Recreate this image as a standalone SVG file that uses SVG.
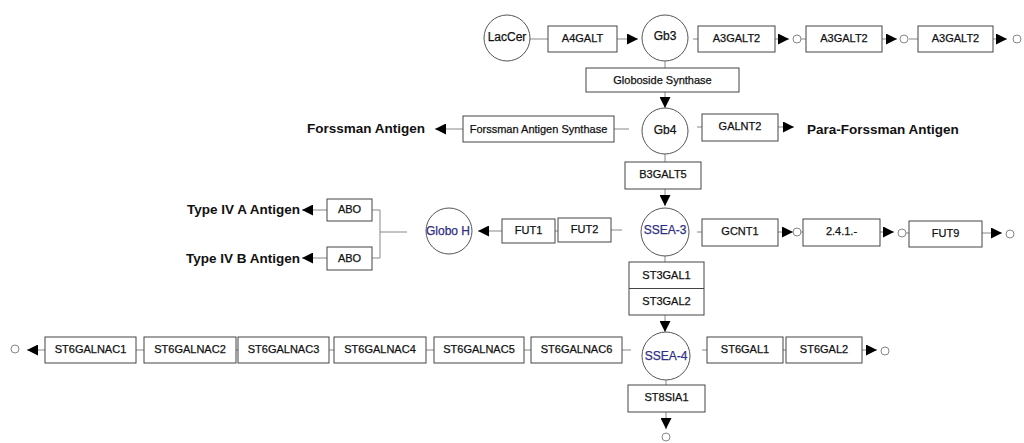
<svg xmlns="http://www.w3.org/2000/svg" width="1024" height="443" viewBox="0 0 1024 443">
  <style>
    .box { fill: #fff; stroke: #444; stroke-width: 1; }
    .met { fill: #fff; stroke: #555; stroke-width: 1; }
    .end { fill: #fff; stroke: #888; stroke-width: 1; }
    .lbl { font-family: "Liberation Sans", Arial, sans-serif; font-size: 11px; fill: #111; stroke: #111; stroke-width: 0.25; text-anchor: middle; dominant-baseline: central; }
    .mlbl { font-size: 12px; }
    .blue { fill: #2e2e82; stroke: #2e2e82; }
    .prod { font-family: "Liberation Sans", Arial, sans-serif; font-size: 13.5px; font-weight: bold; fill: #111; dominant-baseline: central; }
    .ln { stroke: #888; stroke-width: 1; fill: none; }
    .ar { stroke: #888; stroke-width: 1; fill: none; marker-end: url(#tri); }
  </style>
  <defs>
    <marker id="tri" viewBox="0 0 10 10" refX="10" refY="5" markerWidth="11" markerHeight="11" markerUnits="userSpaceOnUse" orient="auto">
      <path d="M0,0 L10,5 L0,10 z" fill="#000"/>
    </marker>
  </defs>
  <rect width="1024" height="443" fill="#fff"/>

  <!-- connectors -->
  <g id="connectors">
    <!-- top row -->
    <line class="ln" x1="530" y1="39" x2="548" y2="39"/>
    <line class="ar" x1="617" y1="39" x2="638" y2="39"/>
    <line class="ln" x1="693" y1="39" x2="698" y2="39"/>
    <line class="ar" x1="775" y1="39" x2="789" y2="39"/>
    <line class="ln" x1="801" y1="39" x2="806" y2="39"/>
    <line class="ar" x1="882" y1="39" x2="897" y2="39"/>
    <line class="ln" x1="909" y1="39" x2="918" y2="39"/>
    <line class="ar" x1="993" y1="39" x2="1007" y2="39"/>
    <!-- main trunk -->
    <line class="ln" x1="665" y1="61" x2="665" y2="68"/>
    <line class="ar" x1="665" y1="92" x2="665" y2="108"/>
    <line class="ln" x1="665" y1="154" x2="665" y2="162"/>
    <line class="ar" x1="665" y1="189" x2="665" y2="206"/>
    <line class="ln" x1="665" y1="256" x2="665" y2="262"/>
    <line class="ar" x1="665" y1="315" x2="665" y2="332"/>
    <line class="ln" x1="666" y1="380" x2="666" y2="385"/>
    <line class="ar" x1="666" y1="412" x2="666" y2="429"/>
    <!-- Gb4 branches -->
    <line class="ln" x1="629" y1="129" x2="614" y2="129"/>
    <line class="ar" x1="463" y1="129" x2="435" y2="129"/>
    <line class="ln" x1="697" y1="127" x2="702" y2="127"/>
    <line class="ar" x1="778" y1="127" x2="794" y2="127"/>
    <!-- SSEA-3 left branch -->
    <line class="ln" x1="622" y1="230" x2="611" y2="230"/>
    <line class="ln" x1="558" y1="231" x2="555" y2="231"/>
    <line class="ar" x1="502" y1="231" x2="478" y2="231"/>
    <line class="ln" x1="407" y1="232" x2="380" y2="232"/>
    <path class="ln" d="M372,210 H380 V258 H372"/>
    <line class="ar" x1="327" y1="210" x2="302" y2="210"/>
    <line class="ar" x1="327" y1="258" x2="302" y2="258"/>
    <!-- SSEA-3 right branch -->
    <line class="ln" x1="697" y1="232" x2="702" y2="232"/>
    <line class="ar" x1="778" y1="232" x2="793" y2="232"/>
    <line class="ln" x1="801" y1="232" x2="803" y2="232"/>
    <line class="ar" x1="880" y1="232" x2="894" y2="232"/>
    <line class="ln" x1="906" y1="233" x2="909" y2="233"/>
    <line class="ar" x1="982" y1="233" x2="1002" y2="233"/>
    <!-- SSEA-4 left branch -->
    <line class="ln" x1="631" y1="350" x2="622" y2="350"/>
    <line class="ln" x1="531" y1="350" x2="524" y2="350"/>
    <line class="ln" x1="434" y1="350" x2="426" y2="350"/>
    <line class="ln" x1="334" y1="350" x2="329" y2="350"/>
    <line class="ln" x1="238" y1="350" x2="236" y2="350"/>
    <line class="ln" x1="144" y1="350" x2="136" y2="350"/>
    <line class="ar" x1="45" y1="350" x2="27" y2="350"/>
    <!-- SSEA-4 right branch -->
    <line class="ln" x1="702" y1="350" x2="707" y2="350"/>
    <line class="ln" x1="783" y1="350" x2="786" y2="350"/>
    <line class="ar" x1="862" y1="350" x2="877" y2="350"/>
  </g>

  <!-- metabolites -->
  <g id="LacCer"><circle class="met" cx="507" cy="38" r="23"/><text class="lbl mlbl" x="507" y="37">LacCer</text></g>
  <g id="Gb3"><circle class="met" cx="665" cy="38" r="23"/><text class="lbl mlbl" x="665" y="36">Gb3</text></g>
  <g id="Gb4"><circle class="met" cx="665" cy="131" r="23"/><text class="lbl mlbl" x="665" y="130">Gb4</text></g>
  <g id="SSEA-3"><circle class="met" cx="665" cy="232" r="24"/><text class="lbl mlbl blue" x="665" y="230">SSEA-3</text></g>
  <g id="GloboH"><circle class="met" cx="449" cy="231" r="23"/><text class="lbl mlbl blue" x="448" y="231">Globo H</text></g>
  <g id="SSEA-4"><circle class="met" cx="666" cy="356" r="24"/><text class="lbl mlbl blue" x="666" y="356">SSEA-4</text></g>

  <!-- end products -->
  <g id="ForssmanAntigen"><text class="prod" x="425" y="128" text-anchor="end">Forssman Antigen</text></g>
  <g id="ParaForssmanAntigen"><text class="prod" x="807" y="129">Para-Forssman Antigen</text></g>
  <g id="TypeIVA"><text class="prod" x="300" y="209" text-anchor="end">Type IV A Antigen</text></g>
  <g id="TypeIVB"><text class="prod" x="300" y="258" text-anchor="end">Type IV B Antigen</text></g>

  <!-- terminal (unspecified) products -->
  <g id="terminals">
    <circle class="end" cx="797" cy="39" r="4"/>
    <circle class="end" cx="904" cy="39" r="4"/>
    <circle class="end" cx="1017" cy="39" r="4"/>
    <circle class="end" cx="797" cy="232" r="4"/>
    <circle class="end" cx="902" cy="233" r="4"/>
    <circle class="end" cx="1010" cy="234" r="4"/>
    <circle class="end" cx="15" cy="349" r="4"/>
    <circle class="end" cx="885" cy="351" r="4"/>
    <circle class="end" cx="666" cy="437" r="4"/>
  </g>

  <!-- enzymes -->
  <g id="A4GALT"><rect class="box" x="548" y="26" width="69" height="26"/><text class="lbl" x="582.5" y="38">A4GALT</text></g>
  <g id="A3GALT2-1"><rect class="box" x="698" y="26" width="77" height="26"/><text class="lbl" x="736.5" y="38">A3GALT2</text></g>
  <g id="A3GALT2-2"><rect class="box" x="806" y="26" width="76" height="26"/><text class="lbl" x="844" y="38">A3GALT2</text></g>
  <g id="A3GALT2-3"><rect class="box" x="918" y="26" width="75" height="26"/><text class="lbl" x="955.5" y="38">A3GALT2</text></g>
  <g id="GlobosideSynthase"><rect class="box" x="586" y="68" width="153" height="24"/><text class="lbl" x="662.5" y="80">Globoside Synthase</text></g>
  <g id="ForssmanAntigenSynthase"><rect class="box" x="463" y="116" width="151" height="26"/><text class="lbl" x="538.5" y="129">Forssman Antigen Synthase</text></g>
  <g id="GALNT2"><rect class="box" x="702" y="114" width="76" height="27"/><text class="lbl" x="740" y="126">GALNT2</text></g>
  <g id="B3GALT5"><rect class="box" x="625" y="162" width="76" height="27"/><text class="lbl" x="663" y="174">B3GALT5</text></g>
  <g id="FUT2"><rect class="box" x="558" y="218" width="53" height="24"/><text class="lbl" x="584.5" y="229">FUT2</text></g>
  <g id="FUT1"><rect class="box" x="502" y="219" width="53" height="24"/><text class="lbl" x="528.5" y="230">FUT1</text></g>
  <g id="ABO-A"><rect class="box" x="327" y="199" width="45" height="22"/><text class="lbl" x="349.5" y="209">ABO</text></g>
  <g id="ABO-B"><rect class="box" x="327" y="247" width="45" height="23"/><text class="lbl" x="349.5" y="258">ABO</text></g>
  <g id="GCNT1"><rect class="box" x="702" y="219" width="76" height="27"/><text class="lbl" x="740" y="231">GCNT1</text></g>
  <g id="EC2.4.1"><rect class="box" x="803" y="219" width="77" height="27"/><text class="lbl" x="841.5" y="231">2.4.1.-</text></g>
  <g id="FUT9"><rect class="box" x="909" y="221" width="73" height="26"/><text class="lbl" x="945.5" y="233">FUT9</text></g>
  <g id="ST3GAL1-2">
    <rect class="box" x="629" y="262" width="75" height="53"/>
    <line x1="629" y1="288.5" x2="704" y2="288.5" stroke="#444" stroke-width="1"/>
    <text class="lbl" x="666.5" y="275">ST3GAL1</text>
    <text class="lbl" x="666.5" y="301">ST3GAL2</text>
  </g>
  <g id="ST8SIA1"><rect class="box" x="628" y="385" width="77" height="27"/><text class="lbl" x="666.5" y="397">ST8SIA1</text></g>
  <g id="ST6GAL1"><rect class="box" x="707" y="337" width="76" height="26"/><text class="lbl" x="745" y="349">ST6GAL1</text></g>
  <g id="ST6GAL2"><rect class="box" x="786" y="337" width="76" height="26"/><text class="lbl" x="824" y="349">ST6GAL2</text></g>
  <g id="ST6GALNAC1"><rect class="box" x="45" y="337" width="91" height="26"/><text class="lbl" x="90.5" y="349">ST6GALNAC1</text></g>
  <g id="ST6GALNAC2"><rect class="box" x="144" y="337" width="92" height="26"/><text class="lbl" x="190" y="349">ST6GALNAC2</text></g>
  <g id="ST6GALNAC3"><rect class="box" x="238" y="337" width="91" height="26"/><text class="lbl" x="283.5" y="349">ST6GALNAC3</text></g>
  <g id="ST6GALNAC4"><rect class="box" x="334" y="337" width="92" height="26"/><text class="lbl" x="380" y="349">ST6GALNAC4</text></g>
  <g id="ST6GALNAC5"><rect class="box" x="434" y="337" width="90" height="26"/><text class="lbl" x="479" y="349">ST6GALNAC5</text></g>
  <g id="ST6GALNAC6"><rect class="box" x="531" y="337" width="91" height="26"/><text class="lbl" x="576.5" y="349">ST6GALNAC6</text></g>
</svg>
